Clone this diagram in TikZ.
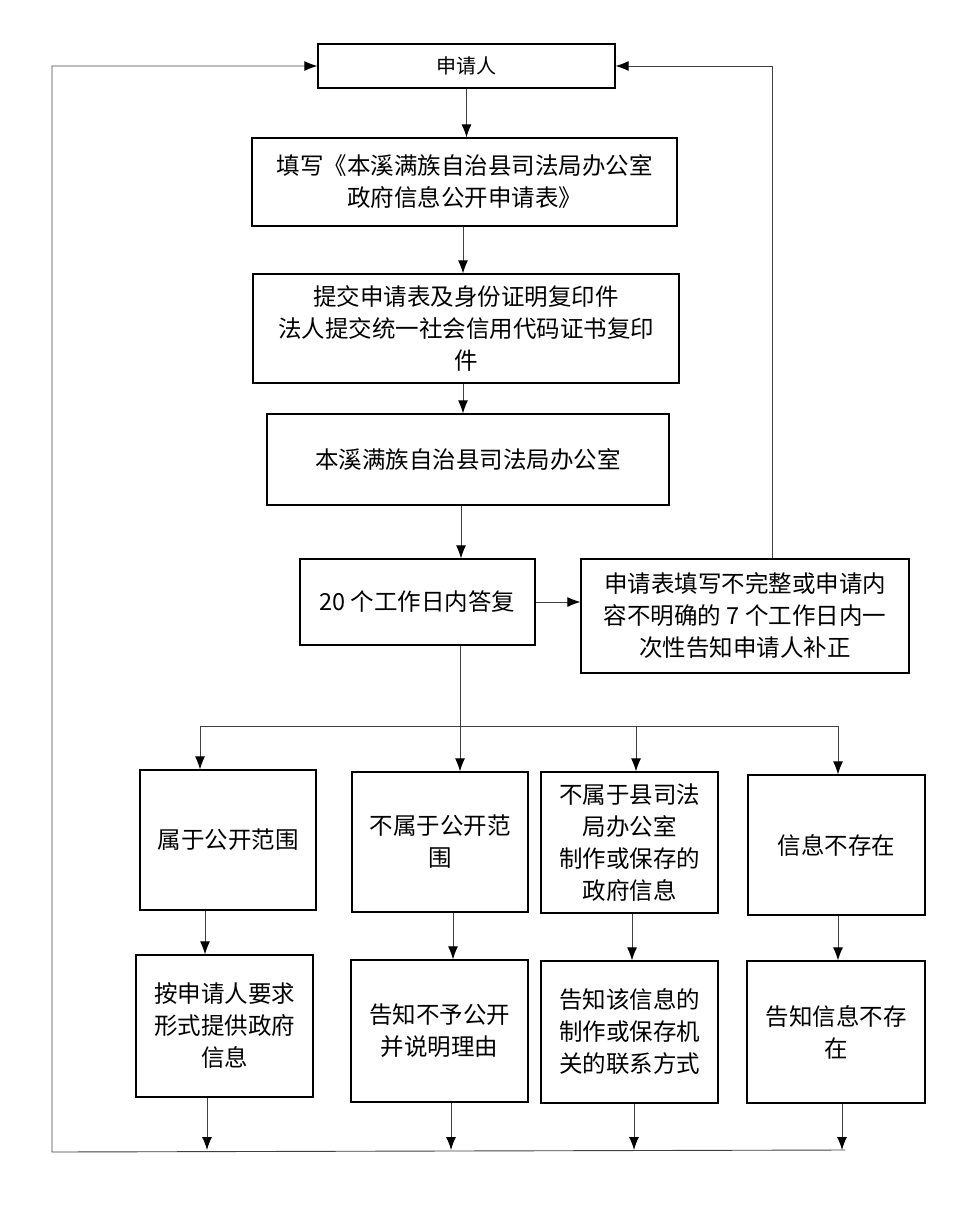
\documentclass[tikz,border=0pt]{standalone}
\usepackage{fontspec}
\setmainfont{Noto Sans CJK SC}
\usetikzlibrary{arrows.meta, positioning}
\tikzstyle{block} = [rectangle, draw, line width=1.3pt, align=center, text centered, inner sep=2pt, font=\fontsize{23.5}{32}\selectfont]
\tikzstyle{small} = [block, minimum width=177pt, minimum height=141pt]
\tikzstyle{flow} = [line width=0.9pt, black!75, -{Latex[length=13pt, width=10pt, black]}]
\tikzstyle{wire} = [line width=0.9pt, black!75]

\begin{document}
\begin{tikzpicture}[x=1pt, y=-1pt]
	\useasboundingbox (0,0) rectangle (969,1221);

	% Main column
	\node (applicant) [block, minimum width=297pt, minimum height=44pt, font=\fontsize{20}{24}\selectfont] at (466.5,66) {申请人};
	\node (fill_form) [block, minimum width=425pt, minimum height=88pt] at (464.5,182) {填写《本溪满族自治县司法局办公室\\政府信息公开申请表》};
	\node (submit_docs) [block, minimum width=426pt, minimum height=109pt] at (466,328.5) {提交申请表及身份证明复印件\\法人提交统一社会信用代码证书复印\\件};
	\node (office) [block, minimum width=402pt, minimum height=91pt] at (468,459.5) {本溪满族自治县司法局办公室};
	\node (reply) [block, minimum width=235pt, minimum height=86pt] at (417.5,602) {20 个工作日内答复};
	\node (amend) [block, minimum width=328pt, minimum height=114pt] at (745,616) {申请表填写不完整或申请内\\容不明确的 7 个工作日内一\\次性告知申请人补正};

	% Cases
	\node (in_scope) [small, minimum width=176pt, minimum height=140pt] at (228,840) {属于公开范围};
	\node (out_scope) [small, minimum width=176pt, minimum height=140pt] at (440,842) {不属于公开范\\围};
	\node (other_org) [small] at (629.5,842.5) {不属于县司法\\局办公室\\制作或保存的\\政府信息};
	\node (no_info) [small, minimum height=140pt] at (836.5,845) {信息不存在};

	% Answers
	\node (provide_info) [small, minimum height=142pt] at (224.5,1026) {按申请人要求\\形式提供政府\\信息};
	\node (refuse_info) [small, minimum height=142pt] at (439.5,1031) {告知不予公开\\并说明理由};
	\node (contact_info) [small, minimum height=142pt] at (629.5,1032) {告知该信息的\\制作或保存机\\关的联系方式};
	\node (tell_none) [small, minimum width=178pt, minimum height=142pt] at (836,1032) {告知信息不存\\在};

	% Bus lines
	\coordinate (bus_left) at (200,726);
	\coordinate (bus_mid) at (460,726);
	\coordinate (bus_third) at (636,726);
	\coordinate (bus_right) at (838,726);
	\coordinate (base_left) at (52,1152);
	\coordinate (base_right) at (845,1150);

	% Arrows
	\draw[flow] (applicant.south) -- (applicant.south|-fill_form.north);
	\draw[flow] ([xshift=-1.5pt]fill_form.south) -- ([xshift=-1.5pt]fill_form.south|-submit_docs.north);
	\draw[flow] ([xshift=-3pt]submit_docs.south) -- ([xshift=-3pt]submit_docs.south|-office.north);
	\draw[flow] ([xshift=-7pt]office.south) -- ([xshift=-7pt]office.south|-reply.north);
	\draw[flow] (reply.east) -- (amend.west|-reply.east);

	\draw[wire] (bus_mid|-reply.south) -- (bus_mid);
	\draw[wire] (bus_left) -- (bus_right);
	\draw[flow] (bus_left) -- (bus_left|-in_scope.north);
	\draw[flow] (bus_mid) -- (bus_mid|-out_scope.north);
	\draw[flow] (bus_third) -- (bus_third|-other_org.north);
	\draw[flow] (bus_right) -- (bus_right|-no_info.north);

	\draw[flow] ([xshift=-23pt]in_scope.south) -- ([xshift=-23pt]in_scope.south|-provide_info.north);
	\draw[flow] ([xshift=13pt]out_scope.south) -- ([xshift=13pt]out_scope.south|-refuse_info.north);
	\draw[flow] ([xshift=2.5pt]other_org.south) -- ([xshift=2.5pt]other_org.south|-contact_info.north);
	\draw[flow] ([xshift=1.5pt]no_info.south) -- ([xshift=1.5pt]no_info.south|-tell_none.north);

	\draw[flow] ([xshift=-17.5pt]provide_info.south) -- ([xshift=-17.5pt]provide_info.south|-base_right);
	\draw[flow] ([xshift=11.5pt]refuse_info.south) -- ([xshift=11.5pt]refuse_info.south|-base_right);
	\draw[flow] ([xshift=4.5pt]contact_info.south) -- ([xshift=4.5pt]contact_info.south|-base_right);
	\draw[flow] ([xshift=6pt]tell_none.south) -- ([xshift=6pt]tell_none.south|-base_right);

	% Loops back to applicant
	\draw[flow] (base_right) -- (base_left) -- (base_left|-applicant.west) -- (applicant.west);
	\draw[flow] ([xshift=27pt]amend.north) |- (applicant.east);

\end{tikzpicture}
\end{document}
